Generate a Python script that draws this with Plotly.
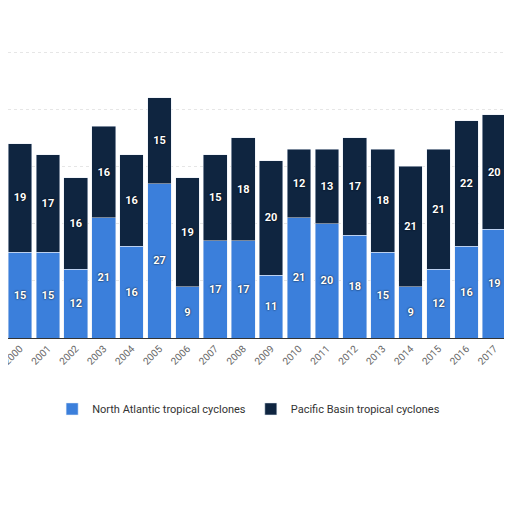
import plotly.graph_objects as go

years = [str(y) for y in range(2000, 2019)]
north_atlantic = [15, 15, 12, 21, 16, 27, 9, 17, 17, 11, 21, 20, 18, 15, 9, 12, 16, 19, 16]
pacific_basin = [19, 17, 16, 16, 16, 15, 19, 15, 18, 20, 12, 13, 17, 18, 21, 21, 22, 20, 25]

label_font = dict(color="white", size=11, family="Roboto", weight="bold",
                  shadow="0px 0px 2px #000")

fig = go.Figure()
fig.add_trace(go.Bar(x=years, y=north_atlantic, name="North Atlantic tropical cyclones",
                     marker_color="#3b7fdb", text=north_atlantic, textposition="inside",
                     insidetextanchor="middle", textfont=label_font, textangle=0))
fig.add_trace(go.Bar(x=years, y=pacific_basin, name="Pacific Basin tropical cyclones",
                     marker_color="#0f2540", text=pacific_basin, textposition="inside",
                     insidetextanchor="middle", textfont=label_font, textangle=0))

fig.update_layout(
    barmode="stack", bargap=0.15,
    width=512, height=512,
    margin=dict(l=0, r=0, t=0, b=182),
    plot_bgcolor="white", paper_bgcolor="white",
    xaxis=dict(type="category", range=[-0.43, 17.92], autorange=False, automargin=False,
               tickangle=-45, tickfont=dict(size=10, color="#666", family="Roboto"),
               showline=True, linecolor="#333", ticks=""),
    yaxis=dict(range=[0, 57.7], autorange=False, automargin=False, dtick=10,
               showticklabels=False, gridcolor="#e6e6e6", griddash="dot", zeroline=False),
    legend=dict(orientation="h", traceorder="normal", x=0.47, xanchor="center",
                y=-0.215, yanchor="middle",
                font=dict(size=11, color="#333", family="Roboto")),
    showlegend=True,
)

fig.write_html("out.html")
